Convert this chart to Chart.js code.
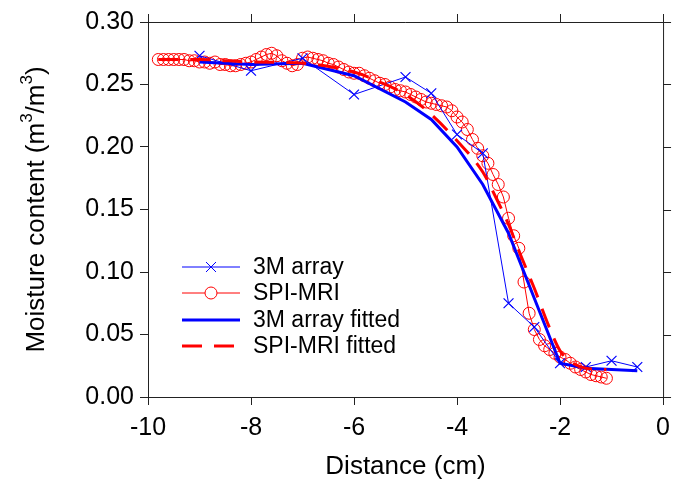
<!DOCTYPE html>
<html>
<head>
<meta charset="utf-8">
<script src="https://cdn.jsdelivr.net/npm/chart.js@4.4.0/dist/chart.umd.min.js"></script>
<style>
  html, body { margin: 0; padding: 0; background: #fff; }
</style>
</head>
<body>
<canvas id="myChart" width="678" height="486"></canvas>
<script>
// 3M array (measured)
const arrayX = [-9, -8, -7, -6, -5, -4.5, -4, -3.5, -3, -2.5, -2, -1.5, -1, -0.5];
const arrayY = [0.273, 0.261, 0.271, 0.242, 0.256, 0.243, 0.21, 0.195, 0.075, 0.056, 0.027, 0.024, 0.029, 0.024];

// 3M array fitted
const arrayFitX = [-9, -8, -7, -6, -5, -4.5, -4, -3.5, -3, -2.5, -2, -1.5, -1, -0.5];
const arrayFitY = [0.268, 0.266, 0.267, 0.257, 0.236, 0.222, 0.2, 0.17, 0.131, 0.079, 0.027, 0.023, 0.022, 0.021];

// SPI-MRI (measured)
const mriX = [
  -9.8, -9.7, -9.6, -9.5, -9.4, -9.3, -9.2, -9.1, -9.0, -8.9,
  -8.8, -8.7, -8.6, -8.5, -8.4, -8.3, -8.2, -8.1, -8.0, -7.9,
  -7.8, -7.7, -7.6, -7.5, -7.4, -7.3, -7.2, -7.1, -7.0, -6.9,
  -6.8, -6.7, -6.6, -6.5, -6.4, -6.3, -6.2, -6.1, -6.0, -5.9,
  -5.8, -5.7, -5.6, -5.5, -5.4, -5.3, -5.2, -5.1, -5.0, -4.9,
  -4.8, -4.7, -4.6, -4.5, -4.4, -4.3, -4.2, -4.1, -4.0, -3.9,
  -3.8, -3.7, -3.6, -3.5, -3.4, -3.3, -3.2, -3.1, -3.0, -2.9,
  -2.8, -2.7, -2.6, -2.5, -2.4, -2.3, -2.2, -2.1, -2.0, -1.9,
  -1.8, -1.7, -1.6, -1.5, -1.4, -1.3, -1.2, -1.1
];
const mriY = [
  0.270, 0.270, 0.270, 0.270, 0.270, 0.270, 0.269, 0.269, 0.268, 0.268,
  0.267, 0.268, 0.266, 0.266, 0.265, 0.265, 0.266, 0.267, 0.268, 0.270,
  0.272, 0.274, 0.275, 0.273, 0.269, 0.267, 0.265, 0.266, 0.271, 0.272,
  0.271, 0.270, 0.269, 0.267, 0.266, 0.264, 0.262, 0.260, 0.259, 0.259,
  0.257, 0.255, 0.253, 0.251, 0.250, 0.248, 0.246, 0.245, 0.244, 0.242,
  0.240, 0.238, 0.236, 0.235, 0.234, 0.233, 0.232, 0.229, 0.224, 0.220,
  0.214, 0.206, 0.199, 0.193, 0.187, 0.178, 0.170, 0.160, 0.143, 0.129,
  0.119, 0.092, 0.067, 0.054, 0.046, 0.041, 0.038, 0.035, 0.032, 0.030,
  0.027, 0.024, 0.022, 0.020, 0.018, 0.017, 0.016, 0.015
];

// SPI-MRI fitted
const mriFitX = [-9.8, -9, -8, -7, -6, -5.5, -5, -4.5, -4, -3.5, -3.25, -3, -2.75, -2.5, -2.25, -2, -1.75, -1.5, -1.1];
const mriFitY = [0.270, 0.270, 0.268, 0.267, 0.260, 0.252, 0.242, 0.226, 0.205, 0.180, 0.160, 0.138, 0.112, 0.087, 0.060, 0.037, 0.027, 0.023, 0.022];

const xTicks = [-10, -8, -6, -4, -2, 0];
const yTicks = [0.00, 0.05, 0.10, 0.15, 0.20, 0.25, 0.30];

const legendLabels = ["3M array", "SPI-MRI", "3M array fitted", "SPI-MRI fitted"];

const FONT = "'Liberation Sans', Arial, sans-serif";
const BLUE = "#0000ff";
const RED = "#ff0000";
const AXIS = "#222222";

const toPoints = (xs, ys) => xs.map((x, i) => ({ x: x, y: ys[i] }));

// axis titles, top/right frame and the legend
const decorations = {
  id: "decorations",
  afterDraw(chart) {
    const ctx = chart.ctx;
    const area = chart.chartArea;
    const xs = chart.scales.x;
    const ys = chart.scales.y;
    ctx.save();

    // top and right frame with outward ticks
    ctx.strokeStyle = AXIS;
    ctx.lineWidth = 1;
    ctx.beginPath();
    ctx.moveTo(area.left, area.top + 0.5);
    ctx.lineTo(area.right + 0.5, area.top + 0.5);
    ctx.lineTo(area.right + 0.5, area.bottom);
    xTicks.forEach((v) => {
      const px = Math.round(xs.getPixelForValue(v)) + 0.5;
      ctx.moveTo(px, area.top);
      ctx.lineTo(px, area.top - 8);
    });
    yTicks.forEach((v) => {
      const py = Math.round(ys.getPixelForValue(v)) + 0.5;
      ctx.moveTo(area.right, py);
      ctx.lineTo(area.right + 8, py);
    });
    ctx.stroke();

    // x title
    ctx.fillStyle = "#000";
    ctx.font = "26px " + FONT;
    ctx.textAlign = "center";
    ctx.textBaseline = "middle";
    ctx.fillText("Distance (cm)", (area.left + area.right) / 2, 467);

    // y title with superscripts
    const parts = [
      ["Moisture content (m", false],
      ["3", true],
      ["/m", false],
      ["3", true],
      [")", false],
    ];
    const big = "26px " + FONT;
    const small = "17px " + FONT;
    let total = 0;
    parts.forEach(([t, sup]) => {
      ctx.font = sup ? small : big;
      total += ctx.measureText(t).width;
    });
    ctx.translate(37, (area.top + area.bottom) / 2);
    ctx.rotate(-Math.PI / 2);
    ctx.textAlign = "left";
    let cx = -total / 2;
    parts.forEach(([t, sup]) => {
      ctx.font = sup ? small : big;
      ctx.fillText(t, cx, sup ? -10 : 0);
      cx += ctx.measureText(t).width;
    });
    ctx.setTransform(1, 0, 0, 1, 0, 0);

    // legend
    const lx0 = 182, lx1 = 240, tx = 253;
    const rows = [267, 293, 320, 346];
    ctx.font = "23px " + FONT;
    ctx.textAlign = "left";
    ctx.textBaseline = "middle";
    rows.forEach((ry, i) => {
      ctx.setLineDash([]);
      if (i === 0) {
        ctx.strokeStyle = BLUE;
        ctx.lineWidth = 1;
        ctx.beginPath();
        ctx.moveTo(lx0, ry); ctx.lineTo(lx1, ry);
        const c = (lx0 + lx1) / 2, d = 5;
        ctx.moveTo(c - d, ry - d); ctx.lineTo(c + d, ry + d);
        ctx.moveTo(c - d, ry + d); ctx.lineTo(c + d, ry - d);
        ctx.stroke();
      } else if (i === 1) {
        ctx.strokeStyle = RED;
        ctx.lineWidth = 1;
        const c = (lx0 + lx1) / 2;
        ctx.beginPath();
        ctx.moveTo(lx0, ry); ctx.lineTo(c - 6, ry);
        ctx.moveTo(c + 6, ry); ctx.lineTo(lx1, ry);
        ctx.stroke();
        ctx.beginPath();
        ctx.arc(c, ry, 6, 0, Math.PI * 2);
        ctx.stroke();
      } else if (i === 2) {
        ctx.strokeStyle = BLUE;
        ctx.lineWidth = 3;
        ctx.beginPath();
        ctx.moveTo(lx0, ry); ctx.lineTo(lx1, ry);
        ctx.stroke();
      } else {
        ctx.strokeStyle = RED;
        ctx.lineWidth = 3;
        ctx.setLineDash([20, 12]);
        ctx.beginPath();
        ctx.moveTo(lx0, ry); ctx.lineTo(lx1, ry);
        ctx.stroke();
        ctx.setLineDash([]);
      }
      ctx.fillStyle = "#000";
      ctx.fillText(legendLabels[i], tx, ry + 1);
    });

    ctx.restore();
  },
};

new Chart("myChart", {
  type: "scatter",
  data: {
    datasets: [
      {
        label: "SPI-MRI fitted",
        data: toPoints(mriFitX, mriFitY),
        showLine: true,
        borderColor: RED,
        borderWidth: 3,
        borderDash: [20, 12],
        pointRadius: 0,
        cubicInterpolationMode: "monotone",
        order: 0,
      },
      {
        label: "3M array fitted",
        data: toPoints(arrayFitX, arrayFitY),
        showLine: true,
        borderColor: BLUE,
        borderWidth: 3,
        pointRadius: 0,
        order: 1,
      },
      {
        label: "3M array",
        data: toPoints(arrayX, arrayY),
        showLine: true,
        borderColor: BLUE,
        borderWidth: 1,
        pointStyle: "crossRot",
        pointRadius: 7,
        pointBorderWidth: 1.2,
        pointBorderColor: BLUE,
        order: 2,
      },
      {
        label: "SPI-MRI",
        data: toPoints(mriX, mriY),
        showLine: true,
        borderColor: RED,
        borderWidth: 1,
        pointStyle: "circle",
        pointRadius: 6,
        pointBorderWidth: 1,
        pointBorderColor: RED,
        pointBackgroundColor: "rgba(0,0,0,0)",
        order: 3,
      },
    ],
  },
  options: {
    responsive: false,
    animation: false,
    devicePixelRatio: 1,
    layout: { padding: { left: 0, top: 22, right: 9, bottom: 0 } },
    plugins: {
      legend: { display: false },
      tooltip: { enabled: false },
    },
    scales: {
      x: {
        type: "linear",
        min: -10,
        max: 0,
        afterFit: (s) => { s.height = 89; },
        afterBuildTicks: (s) => { s.ticks = xTicks.map((v) => ({ value: v })); },
        ticks: {
          color: "#000",
          font: { family: FONT, size: 25 },
          padding: 8,
          maxRotation: 0,
          callback: (v) => String(v),
        },
        grid: { drawOnChartArea: false, drawTicks: true, tickLength: 8, color: AXIS },
        border: { display: true, color: AXIS, width: 1 },
      },
      y: {
        type: "linear",
        min: 0,
        max: 0.3,
        afterFit: (s) => { s.width = 148; },
        afterBuildTicks: (s) => { s.ticks = yTicks.map((v) => ({ value: v })); },
        ticks: {
          color: "#000",
          font: { family: FONT, size: 25 },
          padding: 6,
          callback: (v) => Number(v).toFixed(2),
        },
        grid: { drawOnChartArea: false, drawTicks: true, tickLength: 8, color: AXIS },
        border: { display: true, color: AXIS, width: 1 },
      },
    },
  },
  plugins: [decorations],
});
</script>
</body>
</html>
